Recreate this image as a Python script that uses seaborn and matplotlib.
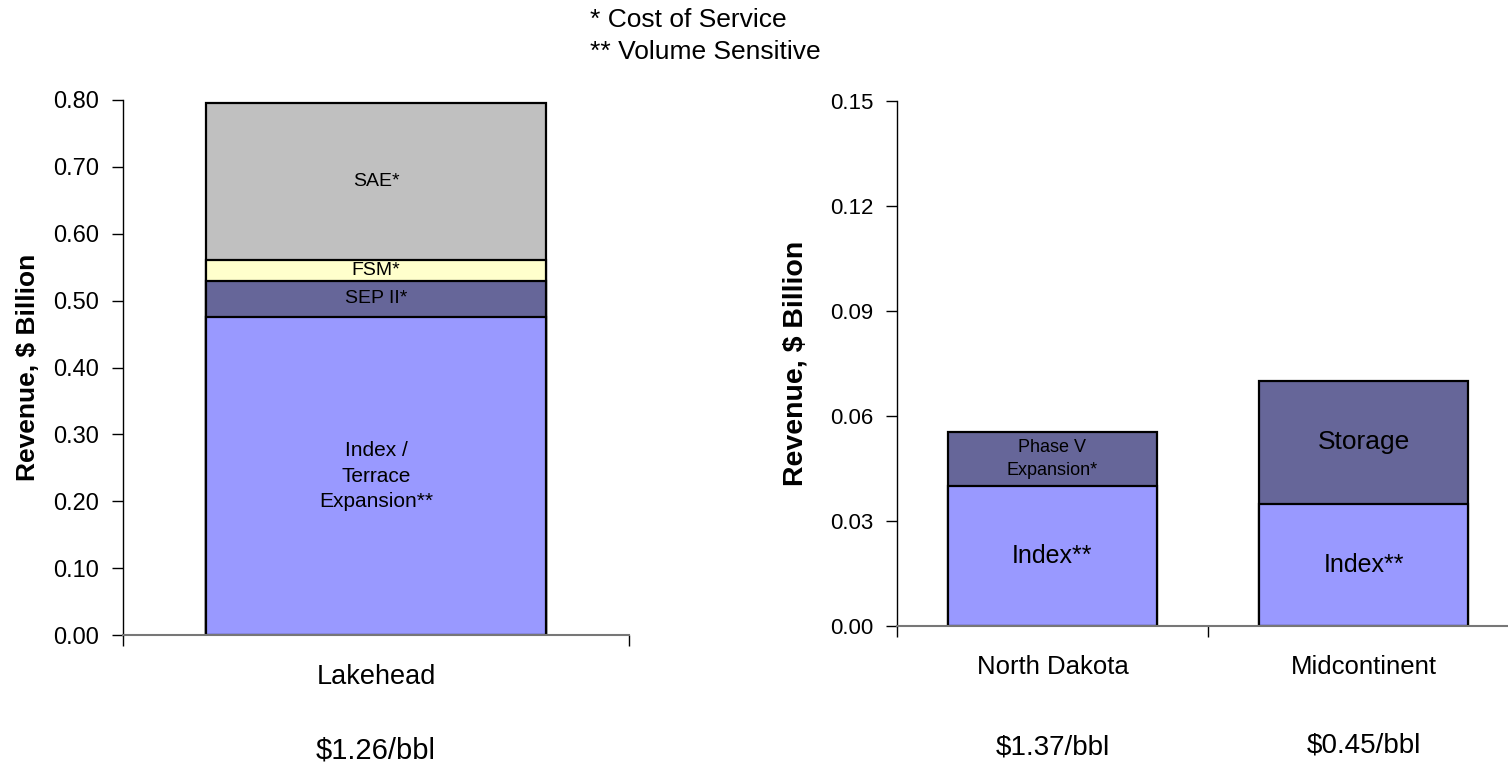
import matplotlib
matplotlib.use("Agg")
import matplotlib.pyplot as plt
import matplotlib.transforms as mtransforms
import numpy as np
import pandas as pd
import seaborn as sns

# ---- data -------------------------------------------------------------
left_categories = ["Lakehead"]
left_layers = ["Index /\nTerrace\nExpansion**", "SEP II*", "FSM*", "SAE*"]
left_values = [[0.475], [0.055], [0.030], [0.235]]   # $ billion, bottom to top
left_prices = ["$1.26/bbl"]

right_categories = ["North Dakota", "Midcontinent"]
right_index = [0.040, 0.035]
right_upper = [0.0155, 0.035]
right_upper_labels = ["Phase V\nExpansion*", "Storage"]
right_prices = ["$1.37/bbl", "$0.45/bbl"]

left_ticks = [0.00, 0.10, 0.20, 0.30, 0.40, 0.50, 0.60, 0.70, 0.80]
right_ticks = [0.00, 0.03, 0.06, 0.09, 0.12, 0.15]

notes = ["* Cost of Service", "** Volume Sensitive"]

# ---- style ------------------------------------------------------------
sns.set_style("white")
plt.rcParams["font.family"] = ["Liberation Sans", "DejaVu Sans"]
plt.rcParams["text.color"] = "black"
plt.rcParams["axes.labelcolor"] = "black"
plt.rcParams["xtick.color"] = "black"
plt.rcParams["ytick.color"] = "black"

C_INDEX = "#9999FF"
C_DARK = "#666699"
C_FSM = "#FFFFCC"
C_SAE = "#C0C0C0"
left_colors = [C_INDEX, C_DARK, C_FSM, C_SAE]

BAR_W = 0.67
EDGE = dict(edgecolor="black", linewidth=1.6)

W, H = 1508, 765
fig = plt.figure(figsize=(W / 100, H / 100), dpi=100)


def px_axes(x0, x1, ytop, ybot):
    return fig.add_axes([x0 / W, (H - ybot) / H, (x1 - x0) / W, (ybot - ytop) / H])


ax_l = px_axes(123, 629, 100, 635)
ax_r = px_axes(897, 1519, 101, 626)


def stacked(ax, cats, layers, colors):
    """Draw stacked bars as overlapping cumulative totals, top layer first."""
    cum = np.cumsum(np.array(layers, dtype=float), axis=0)
    for level in range(len(layers) - 1, -1, -1):
        df = pd.DataFrame({"cat": cats, "val": cum[level]})
        sns.barplot(data=df, x="cat", y="val", order=cats, color=colors[level],
                    width=BAR_W, saturation=1, ax=ax, **EDGE)
    return cum


def style_axes(ax, ncat, ticks, tick_fmt, tick_size, cat_size, ylab_size):
    ax.set_xlim(-0.5, ncat - 0.5)
    ax.set_ylim(ticks[0], ticks[-1])
    ax.set_yticks(ticks)
    ax.set_yticklabels([tick_fmt.format(t) for t in ticks], fontsize=tick_size)
    ax.tick_params(axis="y", direction="out", length=8, width=1, color="black",
                   labelcolor="black", pad=9, left=True)
    ax.set_xticks(range(ncat))
    ax.tick_params(axis="x", which="major", length=0, pad=21, labelsize=cat_size,
                   labelcolor="black")
    ax.set_xticks(np.arange(-0.5, ncat, 1.0), minor=True)
    ax.tick_params(axis="x", which="minor", direction="out", length=8, width=1,
                   color="black", bottom=True)
    for side in ("top", "right"):
        ax.spines[side].set_visible(False)
    ax.spines["left"].set_color("black")
    ax.spines["left"].set_linewidth(1)
    ax.spines["bottom"].set_color("#777777")
    ax.spines["bottom"].set_linewidth(1.5)
    ax.set_xlabel("")
    ax.set_ylabel("Revenue, $ Billion", fontsize=ylab_size, fontweight="bold",
                  color="black")


# ---- left panel: Lakehead ---------------------------------------------
cum_l = stacked(ax_l, left_categories, left_values, left_colors)
style_axes(ax_l, len(left_categories), left_ticks, "{:.2f}", 17, 19.5, 19)
ax_l.yaxis.set_label_coords(-0.164, 0.5)

label_sizes_l = [15, 14, 14, 14]
for i, cat in enumerate(left_categories):
    base = 0.0
    for level, name in enumerate(left_layers):
        top = cum_l[level][i]
        ax_l.text(i, (base + top) / 2, name, ha="center", va="center",
                  fontsize=label_sizes_l[level], linespacing=1.45, color="black")
        base = top

tr_l = mtransforms.blended_transform_factory(ax_l.transData, ax_l.transAxes)
for i, p in enumerate(left_prices):
    ax_l.text(i, -0.215, p, transform=tr_l, ha="center", va="center", fontsize=21,
              color="black")

# ---- right panel: North Dakota / Midcontinent -------------------------
cum_r = stacked(ax_r, right_categories, [right_index, right_upper], [C_INDEX, C_DARK])
style_axes(ax_r, len(right_categories), right_ticks, "{:.2f}", 16, 18.5, 20.5)
ax_r.yaxis.set_label_coords(-0.1415, 0.5)
ax_r.set_xlim(-0.5, 1.5)

upper_sizes = [13, 19]
for i, cat in enumerate(right_categories):
    ax_r.text(i, cum_r[0][i] / 2, "Index**", ha="center", va="center", fontsize=18,
              color="black")
    ax_r.text(i, (cum_r[0][i] + cum_r[1][i]) / 2, right_upper_labels[i],
              ha="center", va="center", fontsize=upper_sizes[i], linespacing=1.5,
              color="black")

tr_r = mtransforms.blended_transform_factory(ax_r.transData, ax_r.transAxes)
price_y = [-0.2305, -0.2267]
for i, p in enumerate(right_prices):
    ax_r.text(i, price_y[i], p, transform=tr_r, ha="center", va="center", fontsize=20,
              color="black")

# ---- footnote key -----------------------------------------------------
fig.text(590 / W, 1 - 20 / H, notes[0], ha="left", va="center", fontsize=19)
fig.text(590 / W, 1 - 52 / H, notes[1], ha="left", va="center", fontsize=19)

fig.savefig("out.png", dpi=100)
